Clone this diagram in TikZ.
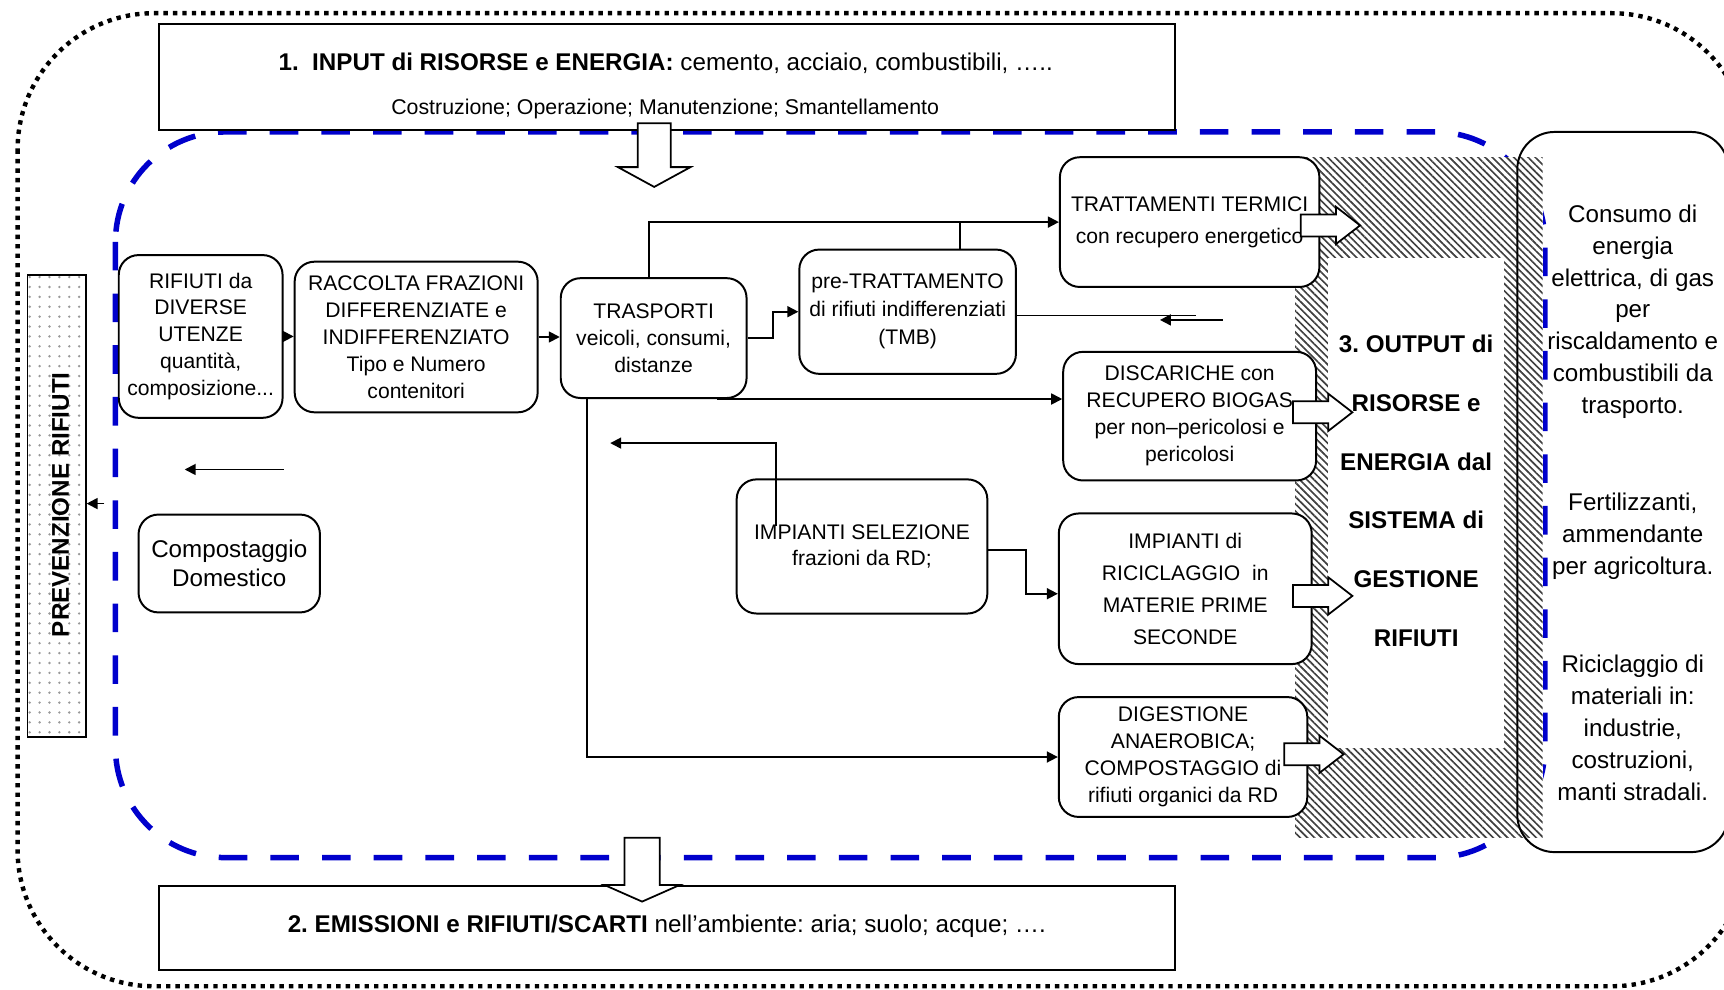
\documentclass[tikz,border=0pt]{standalone}
\usepackage{fontspec}
\setmainfont{Liberation Sans}
\usetikzlibrary{arrows.meta,patterns.meta,calc}
\definecolor{dashblue}{RGB}{0,0,204}
\begin{document}
\frenchspacing
\begin{tikzpicture}[x=0.5pt,y=-0.5pt,
  box/.style={draw, line width=0.9pt, rounded corners=9pt, fill=white, align=center, inner sep=1pt, font=\fontsize{9.6}{12.25}\selectfont},
  arr/.style={line width=0.8pt, -{Triangle[length=5pt,width=5pt]}},
  plain/.style={line width=0.8pt},
  bigtxt/.style={align=center, font=\fontsize{11}{14.5}\selectfont, inner sep=0pt},
  frame/.style={draw, line width=0.9pt, fill=white, inner sep=0pt},
  blkline/.style={draw, line width=0.8pt, fill=white, line join=miter},
  rarrow/.pic={\path[blkline] (-27,-10) -- (5,-10) -- (5,-17) -- (27,0) -- (5,17) -- (5,10) -- (-27,10) -- cycle;},
  darrowA/.pic={\path[blkline] (-15,-29) -- (15,-29) -- (15,11) -- (33,11) -- (0,29) -- (-33,11) -- (-15,11) -- cycle;},
  darrowB/.pic={\path[blkline] (-16,-29) -- (16,-29) -- (16,14) -- (34,14) -- (0,29) -- (-34,14) -- (-16,14) -- cycle;}
]
\useasboundingbox (0,0) rectangle (1568,900);
% outer dotted frame
\draw[line width=2pt, dash pattern=on 2pt off 2.3pt, rounded corners=62pt] (16,12) rectangle (1590,897);
\coordinate (pa) at (95,458);
% blue dashed system boundary
\draw[dashblue, line width=2.5pt, dash pattern=on 13pt off 10.5pt, rounded corners=50pt] (105,120) rectangle (1405,780);
% hatched output band
\fill[white] (1178,143) rectangle (1403,762);
\fill[pattern={Lines[angle=-45,distance=2.3pt,line width=0.75pt]}, pattern color=black!75] (1178,143) rectangle (1403,762);
\fill[white] (1208,235) rectangle (1368,680);
% input / output frames
\node[frame, minimum width=462pt, minimum height=48pt] (inp) at (607,70) {};
\node[inner sep=0pt, font=\fontsize{11}{13}\selectfont] (inpa) at (605.5,58) {\textbf{1.\ \ INPUT di RISORSE e ENERGIA:} cemento, acciaio, combustibili, …..};
\node[inner sep=0pt, font=\fontsize{9.7}{12}\selectfont] (inpb) at (605,99) {Costruzione; Operazione; Manutenzione; Smantellamento};
\node[frame, minimum width=462pt, minimum height=38pt] (emi) at (607,844) {};
\node[inner sep=0pt, font=\fontsize{11}{13}\selectfont] (emit) at (606.5,842) {\textbf{2. EMISSIONI e RIFIUTI/SCARTI} nell’ambiente: aria; suolo; acque; ….};
\pic at (595,141) {darrowA};
\pic at (584,791) {darrowB};
% prevention
\node[draw, line width=0.8pt, preaction={fill=white}, pattern={Dots[distance=4.5pt,radius=0.6pt]}, pattern color=gray!80, minimum width=26.5pt, minimum height=210pt, inner sep=0pt] (prev) at (51.5,460) {};
\node[rotate=90, inner sep=0pt, font=\bfseries\fontsize{11}{13}\selectfont] (prevt) at (55,459) {PREVENZIONE RIFIUTI};
% process boxes
\node[box, minimum width=74.5pt, minimum height=74pt] (rif) at (182.5,306) {RIFIUTI da\\DIVERSE\\UTENZE\\quantità,\\composizione...};
\node[box, minimum width=110.5pt, minimum height=68.5pt] (rac) at (378.5,306.5) {RACCOLTA FRAZIONI\\DIFFERENZIATE e\\INDIFFERENZIATO\\Tipo e Numero\\contenitori};
\node[box, minimum width=84.5pt, minimum height=54.5pt] (tra) at (594.5,307.5) {TRASPORTI\\veicoli, consumi,\\distanze};
\node[box, minimum width=98.5pt, minimum height=56.5pt, font=\fontsize{9.6}{12.75}\selectfont] (pre) at (825.5,283.5) {pre-TRATTAMENTO\\di rifiuti indifferenziati\\(TMB)};
\node[box, minimum width=118pt, minimum height=59pt, font=\fontsize{9.6}{14.5}\selectfont] (term) at (1082,202) {TRATTAMENTI TERMICI\\con recupero energetico};
\node[box, minimum width=115pt, minimum height=58.5pt] (disc) at (1082,378.5) {DISCARICHE con\\RECUPERO BIOGAS\\per non–pericolosi e\\pericolosi};
\node[box, minimum width=114pt, minimum height=61pt] (sel) at (784,497) {IMPIANTI SELEZIONE\\frazioni da RD;};
\node[box, minimum width=115pt, minimum height=68.5pt, font=\fontsize{9.6}{14.5}\selectfont] (ric) at (1078,535.5) {IMPIANTI di\\RICICLAGGIO\ \ in\\MATERIE PRIME\\SECONDE};
\node[box, minimum width=113pt, minimum height=54.5pt] (dig) at (1076,688.5) {DIGESTIONE\\ANAEROBICA;\\COMPOSTAGGIO di\\rifiuti organici da RD};
\node[box, minimum width=82.5pt, minimum height=44.5pt, font=\fontsize{11}{13.5}\selectfont] (comp) at (208.5,512.5) {Compostaggio\\Domestico};
% block arrows to output
\pic at (1210,205) {rarrow};
\pic at (1203,375) {rarrow};
\pic at (1203,542) {rarrow};
\pic at (1195,686) {rarrow};
% output text
\node[align=center, inner sep=0pt, font=\bfseries\fontsize{11}{26.7}\selectfont] (out) at (1288,446.5) {3. OUTPUT di\\RISORSE e\\ENERGIA dal\\SISTEMA di\\GESTIONE\\RIFIUTI};
% right box
\node[draw, line width=0.9pt, rounded corners=17pt, minimum width=96pt, minimum height=327.5pt, inner sep=0pt] (cons) at (1476,447.5) {};
\node[bigtxt] (c1) at (1485,283.5) {Consumo di\\energia\\elettrica, di gas\\per\\riscaldamento e\\combustibili da\\trasporto.};
\node[bigtxt] (c2) at (1485,488) {Fertilizzanti,\\ammendante\\per agricoltura.};
\node[bigtxt] (c3) at (1485,662) {Riciclaggio di\\materiali in:\\industrie,\\costruzioni,\\manti stradali.};
% connectors
\draw[arr] (pa) -- (prev.east |- pa);
\draw[arr] (rif.east) -- (rif.east -| rac.west);
\draw[arr] (rac.east) -- (rac.east -| tra.west);
\draw[arr] (tra.east) -- ++(23,0) |- (pre.west);
\draw[arr] ([xshift=-2.25pt]tra.north) |- (term.west);
\coordinate (j1) at (873,202);
\draw[plain] (pre.north -| j1) -- (j1);
\coordinate (p1) at (1088,287);
\draw[plain] (pre.east |- p1) -- (p1);
\coordinate (fb1) at (1112,291);
\coordinate (fb2) at (1055,291);
\draw[arr] (fb1) -- (fb2);
\draw[arr] ([xshift=-14pt]tra.south east) -- (tra.south east -| disc.west);
\draw[arr] ([xshift=-30.25pt]tra.south) |- (dig.west);
\coordinate (sb) at (555,403);
\draw[arr] ($(sel.center)+(-78,-19)$) |- (sb);
\draw[arr] ([yshift=-1.5pt]sel.east) -- ++(34,0) |- ([yshift=-2.25pt]ric.west);
\coordinate (ca1) at (258,427);
\coordinate (ca2) at (168,427);
\draw[arr] (ca1) -- (ca2);
\end{tikzpicture}
\end{document}
